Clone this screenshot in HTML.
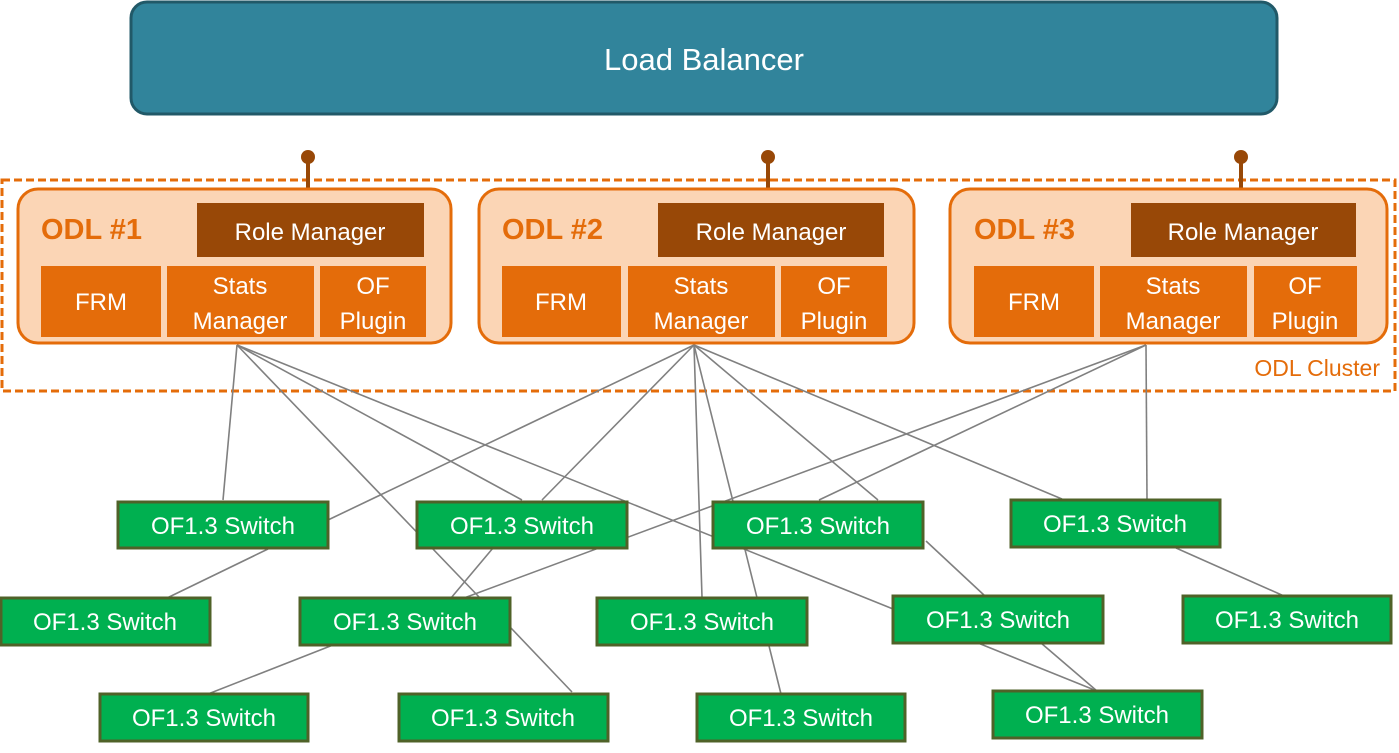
<!DOCTYPE html>
<html><head><meta charset="utf-8"><style>
html,body{margin:0;padding:0;background:#fff;width:1399px;height:753px;overflow:hidden}
svg text{font-family:"Liberation Sans",sans-serif}
</style></head><body>
<svg width="1399" height="753" viewBox="0 0 1399 753" xmlns="http://www.w3.org/2000/svg">
<rect x="131" y="2" width="1146" height="112" rx="16" fill="#31849b" stroke="#215968" stroke-width="3"/>
<text x="704" y="70" font-size="31" fill="#fff" text-anchor="middle">Load Balancer</text>
<rect x="2" y="180" width="1393" height="211" fill="none" stroke="#e46c0a" stroke-width="3" stroke-dasharray="8,4"/>
<text x="1380" y="376" font-size="23" fill="#e46c0a" text-anchor="end">ODL Cluster</text>
<g stroke="#984807" stroke-width="4"><line x1="308" y1="157" x2="308" y2="205"/><line x1="768" y1="157" x2="768" y2="205"/><line x1="1241" y1="157" x2="1241" y2="205"/></g>
<g fill="#984807"><circle cx="308" cy="157" r="7"/><circle cx="768" cy="157" r="7"/><circle cx="1241" cy="157" r="7"/></g>
<g stroke="#808080" stroke-width="1.6">
<line x1="237" y1="345" x2="223" y2="500"/>
<line x1="237" y1="345" x2="480" y2="598"/>
<line x1="237" y1="345" x2="522" y2="500"/>
<line x1="237" y1="345" x2="893" y2="609"/>
<line x1="694" y1="345" x2="328" y2="520"/>
<line x1="694" y1="345" x2="542" y2="500"/>
<line x1="694" y1="345" x2="702" y2="597"/>
<line x1="694" y1="345" x2="781" y2="694"/>
<line x1="694" y1="345" x2="878" y2="500"/>
<line x1="694" y1="345" x2="1062" y2="499"/>
<line x1="1146" y1="345" x2="1147" y2="499"/>
<line x1="1146" y1="345" x2="819" y2="500"/>
<line x1="1146" y1="345" x2="464" y2="598"/>
<line x1="268" y1="549" x2="167" y2="598"/>
<line x1="493" y1="548" x2="451" y2="598"/>
<line x1="333" y1="645" x2="208" y2="694"/>
<line x1="511" y1="628" x2="572" y2="692"/>
<line x1="926" y1="541" x2="985" y2="596"/>
<line x1="1176" y1="548" x2="1284" y2="596"/>
<line x1="978" y1="643" x2="1097" y2="691"/>
<line x1="1041" y1="643" x2="1097" y2="691"/>
</g>
<g font-size="24" fill="#fff" text-anchor="middle">
<g id="o1">
<rect x="18" y="189" width="433" height="154" rx="20" fill="#fbd5b5" stroke="#e46c0a" stroke-width="3"/>
</g>
<rect x="479" y="189" width="435" height="154" rx="20" fill="#fbd5b5" stroke="#e46c0a" stroke-width="3"/>
<rect x="950" y="189" width="437" height="154" rx="20" fill="#fbd5b5" stroke="#e46c0a" stroke-width="3"/>
<g font-weight="bold" font-size="29" fill="#e46c0a" text-anchor="start">
<text x="41" y="239">ODL #1</text><text x="502" y="239">ODL #2</text><text x="974" y="239">ODL #3</text></g>
<g fill="#984807"><rect x="197" y="203" width="227" height="54"/><rect x="658" y="203" width="226" height="54"/><rect x="1131" y="203" width="225" height="54"/></g>
<text x="310" y="240">Role Manager</text><text x="771" y="240">Role Manager</text><text x="1243" y="240">Role Manager</text>
<g fill="#e46c0a">
<rect x="41" y="266" width="120" height="71"/><rect x="167" y="266" width="147" height="71"/><rect x="320" y="266" width="106" height="71"/>
<rect x="502" y="266" width="119" height="71"/><rect x="628" y="266" width="147" height="71"/><rect x="781" y="266" width="106" height="71"/>
<rect x="974" y="266" width="120" height="71"/><rect x="1100" y="266" width="147" height="71"/><rect x="1254" y="266" width="103" height="71"/>
</g>
<text x="101" y="310">FRM</text><text x="240" y="294">Stats</text><text x="240" y="329">Manager</text><text x="373" y="294">OF</text><text x="373" y="329">Plugin</text>
<text x="561" y="310">FRM</text><text x="701" y="294">Stats</text><text x="701" y="329">Manager</text><text x="834" y="294">OF</text><text x="834" y="329">Plugin</text>
<text x="1034" y="310">FRM</text><text x="1173" y="294">Stats</text><text x="1173" y="329">Manager</text><text x="1305" y="294">OF</text><text x="1305" y="329">Plugin</text>
<g fill="#00b050" stroke="#4f6228" stroke-width="3">
<rect x="118" y="502" width="210" height="46"/><rect x="417" y="502" width="210" height="46"/><rect x="713" y="502" width="210" height="46"/><rect x="1011" y="500" width="209" height="47"/>
<rect x="1" y="598" width="209" height="47"/><rect x="300" y="598" width="210" height="47"/><rect x="597" y="598" width="210" height="47"/><rect x="893" y="596" width="210" height="47"/><rect x="1183" y="596" width="208" height="47"/>
<rect x="100" y="694" width="208" height="47"/><rect x="399" y="694" width="209" height="47"/><rect x="697" y="694" width="208" height="47"/><rect x="993" y="691" width="209" height="47"/>
</g>
<text x="223" y="534">OF1.3 Switch</text><text x="522" y="534">OF1.3 Switch</text><text x="818" y="534">OF1.3 Switch</text><text x="1115" y="532">OF1.3 Switch</text>
<text x="105" y="630">OF1.3 Switch</text><text x="405" y="630">OF1.3 Switch</text><text x="702" y="630">OF1.3 Switch</text><text x="998" y="628">OF1.3 Switch</text><text x="1287" y="628">OF1.3 Switch</text>
<text x="204" y="726">OF1.3 Switch</text><text x="503" y="726">OF1.3 Switch</text><text x="801" y="726">OF1.3 Switch</text><text x="1097" y="723">OF1.3 Switch</text>
</g>
</svg>
</body></html>
